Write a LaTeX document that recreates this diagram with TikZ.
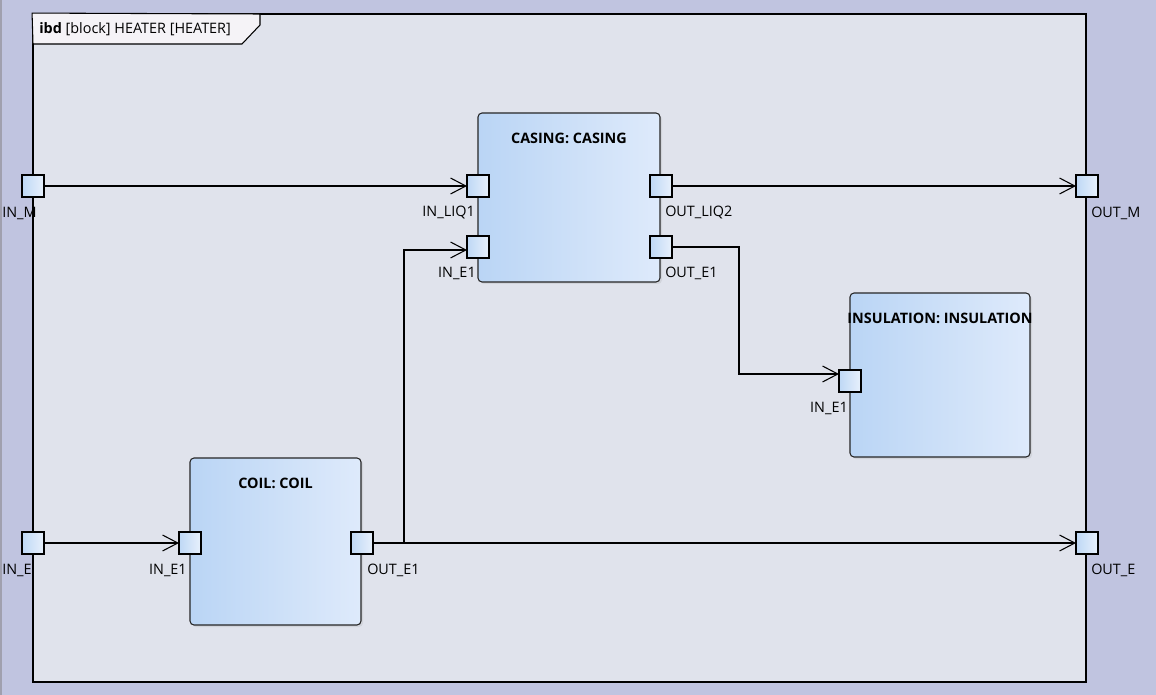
\documentclass[tikz,border=0pt]{standalone}
\usepackage{fontspec}
\setmainfont{Open Sans}
\usetikzlibrary{arrows.meta,calc,shadows}
\definecolor{outerbg}{RGB}{192,196,224}
\definecolor{framebg}{RGB}{224,227,236}
\definecolor{tabbg}{RGB}{245,243,247}
\definecolor{blockL}{RGB}{186,213,245}
\definecolor{blockR}{RGB}{222,234,251}
\definecolor{portL}{RGB}{190,216,245}
\definecolor{portR}{RGB}{232,240,252}
\definecolor{edgegray}{RGB}{160,160,175}
\begin{document}
\begin{tikzpicture}[x=0.75pt,y=-0.75pt,
 port/.style={draw=black, line width=0.9pt, left color=portL, right color=portR, minimum size=16.5pt, inner sep=0pt, outer sep=0pt},
 block/.style={draw=black!85, line width=0.8pt, rounded corners=3pt, left color=blockL, right color=blockR, inner sep=0pt,
   drop shadow={shadow xshift=1.5pt, shadow yshift=-1.5pt, opacity=0.15}},
 frm/.style={draw=black, line width=1.4pt, fill=framebg, inner sep=0pt},
 title/.style={font=\bfseries\fontsize{10.8}{13}\selectfont, inner sep=0pt},
 plabel/.style={font=\fontsize{10.8}{13}\selectfont, inner sep=0pt},
 conn/.style={line width=0.8pt, -{Straight Barb[length=11.5pt,width=12pt,line width=0.8pt]}},
 wire/.style={line width=0.8pt}]
\fill[outerbg] (0,0) rectangle (1156,695);
\useasboundingbox (0,0) rectangle (1156,695);
\draw[edgegray, line width=1.5pt] (1,0) -- (1,695);
% frame
\node[frm, minimum width=789.75pt, minimum height=501pt] (frame) at (559.5,348) {};
\draw[fill=tabbg, line width=0.8pt] (frame.north west) -- (260,14) -- (260,25) -- (242,44) -- (33,44) -- cycle;
\node[anchor=west, font=\fontsize{10.8}{13}\selectfont, inner sep=0pt] (ftitle) at (39,29) {\textbf{ibd} [block] HEATER [HEATER]};
% blocks
\node[block, minimum width=136.5pt, minimum height=126.75pt] (casing) at (569,197.5) {};
\node[block, minimum width=128.25pt, minimum height=125.25pt] (coil) at (275.5,541.5) {};
\node[block, minimum width=135pt, minimum height=123pt] (insul) at (940,375) {};
\node[title] (casingT) at ($(casing.north)+(0,26)$) {CASING: CASING};
\node[title] (coilT) at ($(coil.north)+(0,26)$) {COIL: COIL};
\node[title] (insulT) at ($(insul.north)+(0,26)$) {INSULATION: INSULATION};
% ports
\node[port] (inM) at (33,186) {};
\node[port] (inE) at (33,543) {};
\node[port] (outM) at (1087,186) {};
\node[port] (outE) at (1087,543) {};
\node[port] (cInLiq) at (478,186) {};
\node[port] (cInE) at (478,247) {};
\node[port] (cOutLiq) at (661,186) {};
\node[port] (cOutE) at (661,247) {};
\node[port] (iIn) at (850,381) {};
\node[port] (kIn) at (190,543) {};
\node[port] (kOut) at (362,543) {};
% port labels
\node[plabel, anchor=west] (inML) at (2,213) {IN\_M};
\node[plabel, anchor=west] (inEL) at (2,570) {IN\_E};
\node[plabel, anchor=west] (outML) at (1091,213) {OUT\_M};
\node[plabel, anchor=west] (outEL) at (1091,570) {OUT\_E};
\node[plabel, anchor=east] (cInLiqL) at (475,213) {IN\_LIQ1};
\node[plabel, anchor=east] (cInEL) at (476,273) {IN\_E1};
\node[plabel, anchor=west] (cOutLiqL) at (665,213) {OUT\_LIQ2};
\node[plabel, anchor=west] (cOutEL) at (665,273) {OUT\_E1};
\node[plabel, anchor=east] (iInL) at (848,408) {IN\_E1};
\node[plabel, anchor=east] (kInL) at (187,570) {IN\_E1};
\node[plabel, anchor=west] (kOutL) at (367,570) {OUT\_E1};
% connectors
\draw[conn] (inM) -- (cInLiq);
\draw[conn] (cOutLiq) -- (outM);
\draw[conn] (cOutE.east) -- ++(67,0) |- ($(iIn.west)+(0,-7)$);
\draw[conn] (kOut.east) -- ++(31,0) |- ($(cInE.west)+(0,3)$);
\draw[conn] (kOut) -- (outE);
\draw[conn] (inE) -- (kIn);
\end{tikzpicture}
\end{document}
